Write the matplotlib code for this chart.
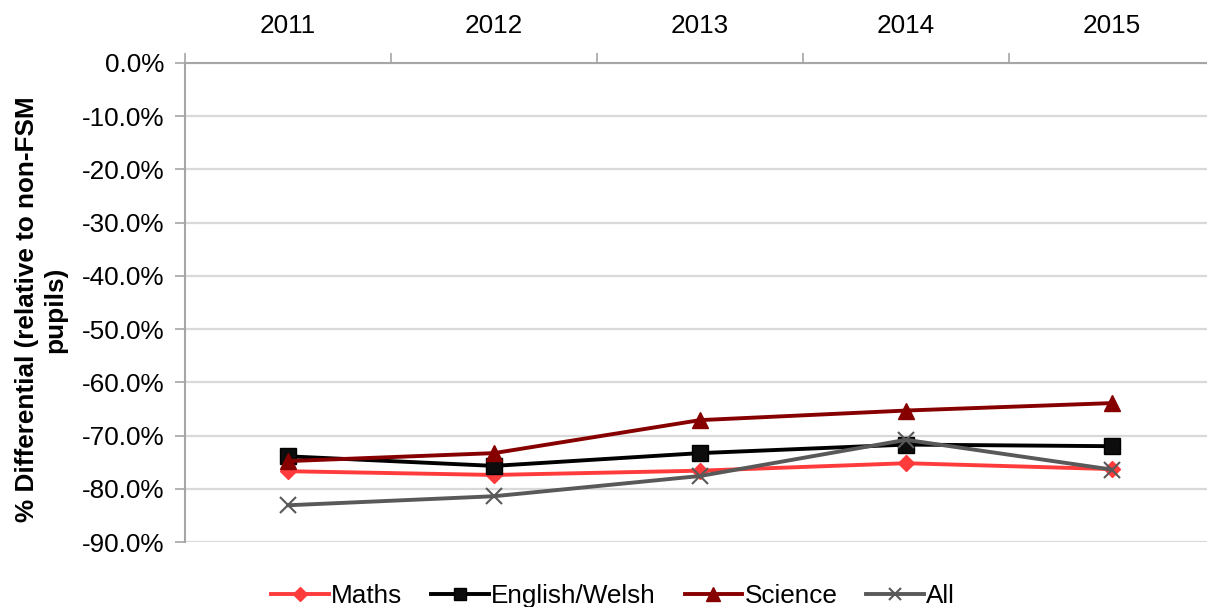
import matplotlib
matplotlib.use("Agg")
import matplotlib.pyplot as plt
from matplotlib.ticker import FuncFormatter, FixedLocator

plt.rcParams['font.family'] = ['Liberation Sans', 'DejaVu Sans']

years = ["2011", "2012", "2013", "2014", "2015"]
maths = [-76.7, -77.4, -76.6, -75.2, -76.3]
english = [-73.9, -75.7, -73.3, -71.7, -72.0]
science = [-74.8, -73.3, -67.1, -65.3, -63.9]
all_subj = [-83.1, -81.4, -77.6, -70.8, -76.4]

fig = plt.figure(figsize=(12.07, 6.07), dpi=100)
ax = fig.add_axes([185/1207, 1-542/607, (1215-185)/1207, (542-63)/607])

x = list(range(len(years)))
fs = 18.8
lw = 2.8
ax.plot(x, maths, color="#FF3B3B", lw=lw, marker="D", ms=8, label="Maths", zorder=3)
ax.plot(x, english, color="#000000", lw=lw, marker="s", ms=11, markerfacecolor="#0d0d0d", label="English/Welsh", zorder=3)
ax.plot(x, science, color="#870000", lw=lw, marker="^", ms=12, label="Science", zorder=3)
ax.plot(x, all_subj, color="#595959", lw=lw, marker="x", ms=11, mew=1.5, label="All", zorder=4)

ax.set_xlim(-0.5, 4.5)
ax.set_ylim(-90, 0)
ax.set_yticks([-90, -80, -70, -60, -50, -40, -30, -20, -10, 0])
ax.yaxis.set_major_formatter(FuncFormatter(lambda v, p: f"{v:.1f}%"))
ax.yaxis.grid(True, color="#D9D9D9", lw=1.6)
ax.set_axisbelow(True)

ax.xaxis.tick_top()
ax.set_xticks(x)
ax.set_xticklabels(years)
ax.xaxis.set_minor_locator(FixedLocator([-0.5, 0.5, 1.5, 2.5, 3.5, 4.5]))
ax.tick_params(axis="x", which="major", length=0, pad=18, labelsize=fs)
ax.tick_params(axis="x", which="minor", length=7, color="#A6A6A6", width=1.2, direction="out")
ax.tick_params(axis="y", length=7, color="#A6A6A6", width=1.2, labelsize=fs, pad=8)

for s in ["bottom", "right"]:
    ax.spines[s].set_visible(False)
for s in ["left", "top"]:
    ax.spines[s].set_color("#A6A6A6")
    ax.spines[s].set_linewidth(1.5)

fig.text(0.034, 0.49, "% Differential (relative to non-FSM\npupils)", rotation=90,
         ha="center", va="center", fontsize=fs, fontweight="bold", multialignment="center")

handles, labels = ax.get_legend_handles_labels()
fig.legend(handles, labels, loc="center", bbox_to_anchor=(0.508, 0.018), ncol=4,
           frameon=False, fontsize=fs, handlelength=2.2, handletextpad=0.1,
           columnspacing=1.1, markerscale=0.85)

fig.savefig("out.png", dpi=100)
